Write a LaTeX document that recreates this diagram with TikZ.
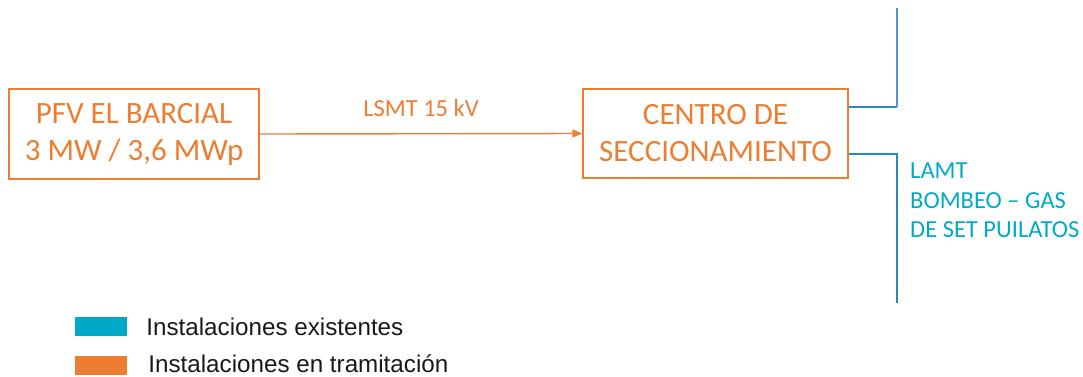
\documentclass[tikz,border=0pt]{standalone}
\usepackage{fontspec}
\setmainfont{Carlito}
\newfontfamily\legendfont{Liberation Sans}
\usetikzlibrary{positioning,arrows.meta}
\definecolor{tramit}{RGB}{237,125,49}
\definecolor{exist}{RGB}{0,170,198}
\definecolor{existline}{RGB}{40,140,180}
\definecolor{existup}{RGB}{80,150,215}
\tikzset{
  box/.style={draw=tramit, line width=1.4pt, text=tramit, align=center,
    inner sep=0pt, font=\fontsize{31}{37}\selectfont},
  legbox/.style={minimum width=52pt, minimum height=19pt, inner sep=0pt},
  legtext/.style={inner sep=0pt, text=black!90, font=\legendfont\fontsize{24.2}{28}\selectfont}
}
\begin{document}
\begin{tikzpicture}[x=1pt, y=-1pt]
    \useasboundingbox (0,0) rectangle (1083,376);
    \node[box, minimum width=250pt, minimum height=90pt] (pfv) at (134,134) {PFV EL BARCIAL\\3 MW / 3,6 MWp};
    \node[box, minimum width=265pt, minimum height=89pt] (cs) at (715.5,133.5) {CENTRO DE\\SECCIONAMIENTO};
    \draw[tramit, line width=1.4pt, -{Triangle[length=10pt,width=8pt]}] (pfv.east) -- node[above=13pt, font=\fontsize{24.5}{29}\selectfont] (lsmt) {LSMT 15 kV} (cs.west);
    \coordinate (upend) at (897,8);
    \coordinate (lowend) at (897,303);
    \coordinate (upstart) at ([yshift=26.5pt]cs.east);
    \coordinate (lowstart) at ([yshift=-20.5pt]cs.east);
    \draw[existline, line width=1.3pt] (upstart) -- (upstart -| upend);
    \draw[existup, line width=1.3pt] (upstart -| upend) -- (upend);
    \draw[existline, line width=1.3pt] (lowstart) -| (lowend);
    \node[anchor=north west, align=left, inner sep=0pt, text=exist,
      font=\fontsize{24.5}{29.5}\selectfont] (lamt) at (910,163) {LAMT\\BOMBEO -- GAS\\DE SET PUILATOS};
    \node[legbox, fill=exist] (legexist) at (101,326.5) {};
    \node[legbox, fill=tramit] (legtramit) at (101,365) {};
    \node[legtext, right=19pt of legexist] (txtexist) {Instalaciones existentes};
    \node[legtext, right=21pt of legtramit, yshift=1pt] (txttramit) {Instalaciones en tramitación};
\end{tikzpicture}
\end{document}
